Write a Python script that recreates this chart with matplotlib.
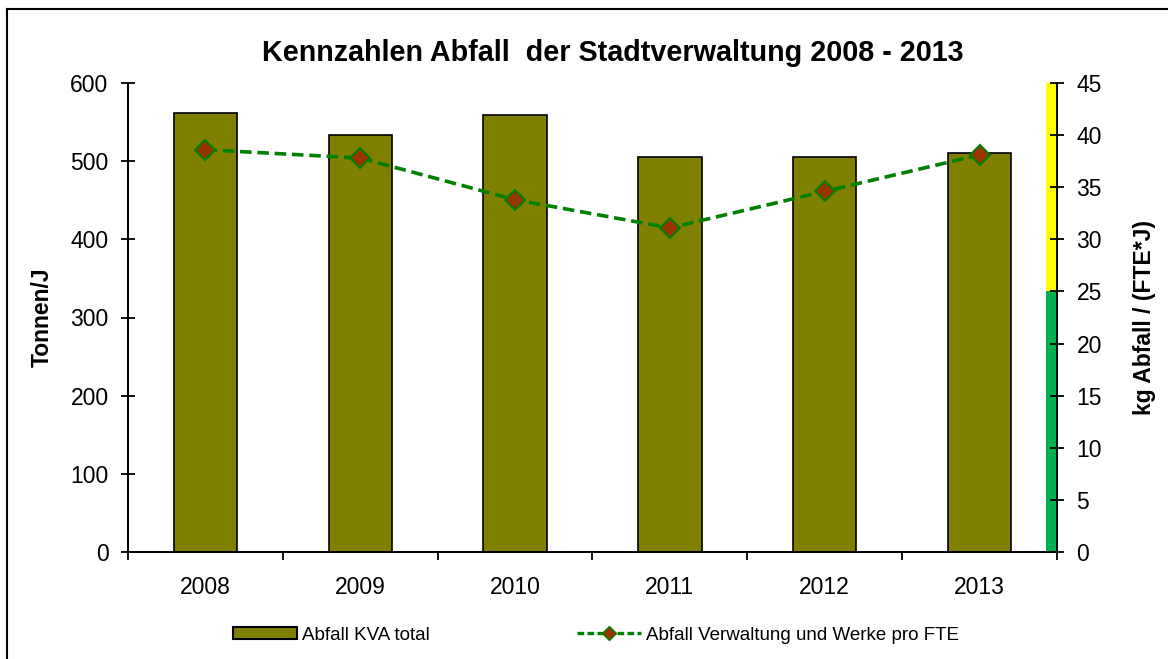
import matplotlib
matplotlib.use("Agg")
import matplotlib.pyplot as plt
import numpy as np
from matplotlib.lines import Line2D
from matplotlib.patches import Patch

plt.rcParams["font.family"] = ["Liberation Sans", "DejaVu Sans"]

# ── Daten ──
YEARS = ["2008", "2009", "2010", "2011", "2012", "2013"]
KVA_TOTAL = [561, 533, 559, 505, 505, 510]          # Tonnen/J
PRO_FTE = [38.6, 37.8, 33.8, 31.1, 34.6, 38.1]      # kg / (FTE*J)
ZIEL_GRUEN = 25      # grüner Bereich bis
ZIEL_GELB = 45       # gelber Bereich bis

W, H = 1168, 659
fig = plt.figure(figsize=(W / 100, H / 100), dpi=100)
ax = fig.add_axes([128 / W, 1 - 552 / H, (1057 - 128) / W, (552 - 83) / H])
ax2 = ax.twinx()

x = np.arange(len(YEARS))
ax.bar(x, KVA_TOTAL, width=0.41, color="#808000", edgecolor="black", lw=1.2, zorder=2)
ax.set_xlim(-0.5, len(YEARS) - 0.5)
ax.set_ylim(0, 600)
ax.set_yticks(np.arange(0, 601, 100))
ax.set_xticks(np.arange(-0.5, len(YEARS), 1.0))
ax.set_xticklabels([])
ax.set_xticks(x, minor=True)
ax.set_xticklabels(YEARS, minor=True)
ax.tick_params(axis="x", which="major", direction="out", length=6, width=1.3)
ax.tick_params(axis="x", which="minor", length=0, pad=17, labelsize=16.5)
ax.tick_params(axis="y", direction="inout", length=10, width=1.3, pad=9, labelsize=16.5)
ax.set_ylabel("Tonnen/J", fontsize=16.5, fontweight="bold", labelpad=12)

# Zielbereich als Farbstreifen am rechten Rand
ax2.axhspan(0, ZIEL_GRUEN, xmin=1 - 11 / 929, xmax=1.0, color="#00B050", lw=0, zorder=1)
ax2.axhspan(ZIEL_GRUEN, ZIEL_GELB, xmin=1 - 11 / 929, xmax=1.0, color="#FFFF00", lw=0, zorder=1)
ax2.plot(x, PRO_FTE, color="#008000", lw=2.6, ls=(0, (3.2, 1.6)), marker="D",
         ms=10, mfc="#993300", mec="#008000", mew=1.5, zorder=3)
ax2.set_ylim(0, 45)
ax2.set_yticks(np.arange(0, 46, 5))
ax2.tick_params(axis="y", direction="inout", length=10, width=1.3, pad=9, labelsize=16.5)
ax2.set_ylabel("kg Abfall / (FTE*J)", fontsize=16.5, fontweight="bold", labelpad=22)

for a in (ax, ax2):
    a.spines["top"].set_visible(False)
    for s in ("left", "right", "bottom"):
        a.spines[s].set_linewidth(1.3)

fig.text(613 / W, 1 - 53 / H, "Kennzahlen Abfall  der Stadtverwaltung 2008 - 2013",
         ha="center", va="center", fontsize=20.7, fontweight="bold")

handles = [
    Patch(facecolor="#808000", edgecolor="black", lw=1.5),
    Line2D([], [], color="#008000", lw=2.4, ls=(0, (2, 1)), marker="D", ms=7,
           mfc="#993300", mec="#008000", mew=1.0),
]
fig.legend(handles, ["Abfall KVA total", "Abfall Verwaltung und Werke pro FTE"],
           loc="center", bbox_to_anchor=(596 / W, 1 - 635 / H), ncol=2, frameon=False,
           fontsize=13.5, handlelength=3.4, handleheight=0.55, handletextpad=0.25,
           columnspacing=7.9)

# Rahmen (nur oben/links sichtbar)
fig.add_artist(Line2D([7 / W, 7 / W], [1 - 9 / H, 0], transform=fig.transFigure, color="black", lw=1.5))
fig.add_artist(Line2D([7 / W, 1], [1 - 9 / H, 1 - 9 / H], transform=fig.transFigure, color="black", lw=1.5))

fig.savefig("out.png", dpi=100)
